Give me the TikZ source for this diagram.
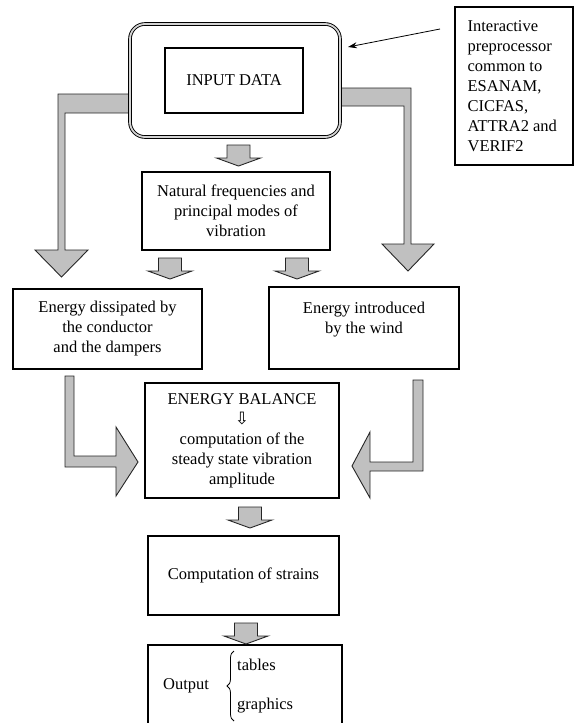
\documentclass[tikz,border=0pt]{standalone}
\usepackage{fontspec}
\setmainfont{Liberation Serif}
\newfontfamily\symfont{DejaVu Sans}
\usetikzlibrary{arrows.meta,decorations.pathreplacing,calc}
\definecolor{arrowgray}{RGB}{192,192,192}
\begin{document}
\begin{tikzpicture}[x=1pt,y=-1pt,
  every node/.style={font=\fontsize{16.5}{20}\selectfont},
  box/.style={draw=black,line width=1.2pt,rectangle,inner sep=0pt,align=center},
  blockfill/.style={fill=arrowgray,draw=black!85,line width=0.9pt,line join=miter},
  thinarrow/.style={draw=black,line width=0.8pt,-{Stealth[length=9pt,width=6pt]}},
  smallarrow/.pic={\draw[blockfill] (-11.5,0) -- (11.5,0) -- (11.5,13) -- (22,13) -- (0,21) -- (-22,13) -- (-11.5,13) -- cycle;}
]
\useasboundingbox (0,0) rectangle (575,723);

% big block arrows
\draw[blockfill] (130,94) -- (58,94) -- (58,250) -- (35,250) -- (61.5,277) -- (88,250) -- (65,250) -- (65,113) -- (130,113) -- cycle;
\draw[blockfill] (340,88) -- (411,88) -- (411,244) -- (434,244) -- (408,271) -- (382,244) -- (404,244) -- (404,106) -- (340,106) -- cycle;
\draw[blockfill] (65,376) -- (74,376) -- (74,456) -- (116,456) -- (116,427) -- (138,462) -- (116,496) -- (116,467) -- (65,467) -- cycle;
\draw[blockfill] (423,380) -- (413,380) -- (413,462) -- (370,462) -- (370,432) -- (352,466) -- (370,498) -- (370,471) -- (423,471) -- cycle;

% input
\node[box, minimum width=210pt, minimum height=113pt, rounded corners=15pt, line width=0.9pt, double=arrowgray!70, double distance=1.8pt] (outer) at (235,80.5) {};
\node[box, minimum width=138pt, minimum height=65pt] (input) at (234,80.5) {INPUT DATA};

% interactive preprocessor
\node[box, minimum width=118pt, minimum height=158pt] (inter) at (514,86) {};
\node[anchor=west, align=left, inner sep=0pt] (intertext) at ($(inter.west)+(13,0)$) {Interactive\\preprocessor\\common to\\ESANAM,\\CICFAS,\\ATTRA2 and\\VERIF2};
\coordinate (pstart) at (440,29);
\coordinate (pend) at (348,47);
\draw[thinarrow] (pstart) -- (pend);

% boxes
\node[box, minimum width=188pt, minimum height=78pt] (natural) at (236,211) {Natural frequencies and\\principal modes of\\vibration};
\node[box, minimum width=189pt, minimum height=80pt] (dissip) at (107.5,329) {Energy dissipated by\\the conductor\\and the dampers};
\node[box, minimum width=190pt, minimum height=82pt] (wind) at (364,328) {Energy introduced\\by the wind\\\mbox{}};
\node[box, minimum width=194pt, minimum height=115pt] (balance) at (242,440.5) {ENERGY BALANCE\\{\symfont\fontsize{17}{20}\selectfont ⇩}\\computation of the\\steady state vibration\\amplitude};
\node[box, minimum width=191pt, minimum height=79pt] (strains) at (243.5,575.5) {Computation of strains};
\node[box, minimum width=194pt, minimum height=82pt] (output) at (245,686) {};
\node[anchor=base west, inner sep=0pt] (outlabel) at (163,689) {Output};
\node[anchor=base west, inner sep=0pt] (tables) at (237,670) {tables};
\node[anchor=base west, inner sep=0pt] (graphics) at (237,709) {graphics};
\draw[decorate, decoration={brace, amplitude=7pt}, line width=0.8pt] (234,721) -- (234,651);

% small block arrows
\pic at (238.5,145) {smallarrow};
\pic at (170,258) {smallarrow};
\pic at (297,258) {smallarrow};
\pic at (250,507) {smallarrow};
\pic at (246,623) {smallarrow};
\end{tikzpicture}
\end{document}
